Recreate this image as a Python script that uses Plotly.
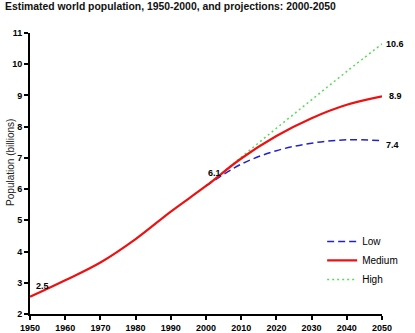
import plotly.graph_objects as go

years_hist = [1950, 1960, 1970, 1980, 1990, 2000]
pop_hist = [2.55, 3.08, 3.65, 4.4, 5.28, 6.1]
years_proj = [2000, 2010, 2020, 2030, 2040, 2050]
low = [6.1, 6.8, 7.23, 7.47, 7.58, 7.55]
medium = [6.1, 6.98, 7.7, 8.27, 8.7, 8.97]
high = [6.1, 7.02, 7.95, 8.86, 9.77, 10.65]

fig = go.Figure()
fig.add_trace(go.Scatter(x=years_proj, y=high, mode="lines", name="High",
                         line=dict(color="#55dd55", width=1.5, dash="2px,3px", shape="spline"), legendrank=3))
fig.add_trace(go.Scatter(x=years_proj, y=low, mode="lines", name="Low",
                         line=dict(color="#2222cc", width=1.5, dash="7px,4px", shape="spline"), legendrank=1))
fig.add_trace(go.Scatter(x=years_hist + years_proj[1:], y=pop_hist + medium[1:], mode="lines", name="Medium",
                         line=dict(color="#ee1111", width=2.2, shape="spline"), legendrank=2))

lab_font = dict(family="Liberation Sans, Arial", size=9, color="black", weight="bold")
anns = [(1950, pop_hist[0], "2.5", 4, 11, "left"), (2000, pop_hist[-1], "6.1", 0, 13, "left"),
        (2050, high[-1], "10.6", 2, 0, "left"), (2050, medium[-1], "8.9", 5, 0, "left"),
        (2050, low[-1], "7.4", 2, -4, "left")]
for x, y, t, dx, dy, xa in anns:
    fig.add_annotation(x=x, y=y, text=t, showarrow=False, xanchor=xa, yanchor="middle",
                       xshift=dx, yshift=dy, font=lab_font)

fig.add_annotation(xref="paper", yref="paper", x=-0.055, y=0.54, text="Population (billions)",
                   textangle=-90, showarrow=False, xanchor="center", yanchor="middle",
                   font=dict(family="Liberation Sans, Arial", size=10, color="#222"))

fig.update_layout(
    width=415, height=333,
    margin=dict(l=30, r=23, t=33, b=19),
    paper_bgcolor="white", plot_bgcolor="white",
    title=dict(text="Estimated world population, 1950-2000, and projections: 2000-2050",
               x=0.012, xanchor="left", y=0.992, yanchor="top",
               font=dict(family="Liberation Sans, Arial", size=10.4, color="#111", weight="bold")),
    xaxis=dict(range=[1950, 2050], tickvals=list(range(1950, 2051, 10)), showgrid=False, zeroline=False,
               showline=True, linecolor="black", linewidth=2, ticks="outside", ticklen=4, tickwidth=1.5,
               tickcolor="black", tickfont=lab_font, automargin=False),
    yaxis=dict(range=[2, 11], tickvals=list(range(2, 12)), showgrid=False, zeroline=False,
               showline=True, linecolor="black", linewidth=2, ticks="outside", ticklen=4, tickwidth=1.5,
               tickcolor="black", tickfont=lab_font, automargin=False),
    legend=dict(x=0.83, y=0.31, xanchor="left", yanchor="top", bgcolor="rgba(0,0,0,0)",
                font=dict(family="Liberation Sans, Arial", size=10, color="black"),
                itemwidth=30, tracegroupgap=0, traceorder="normal"),
    showlegend=True,
)

fig.write_html("out.html")
